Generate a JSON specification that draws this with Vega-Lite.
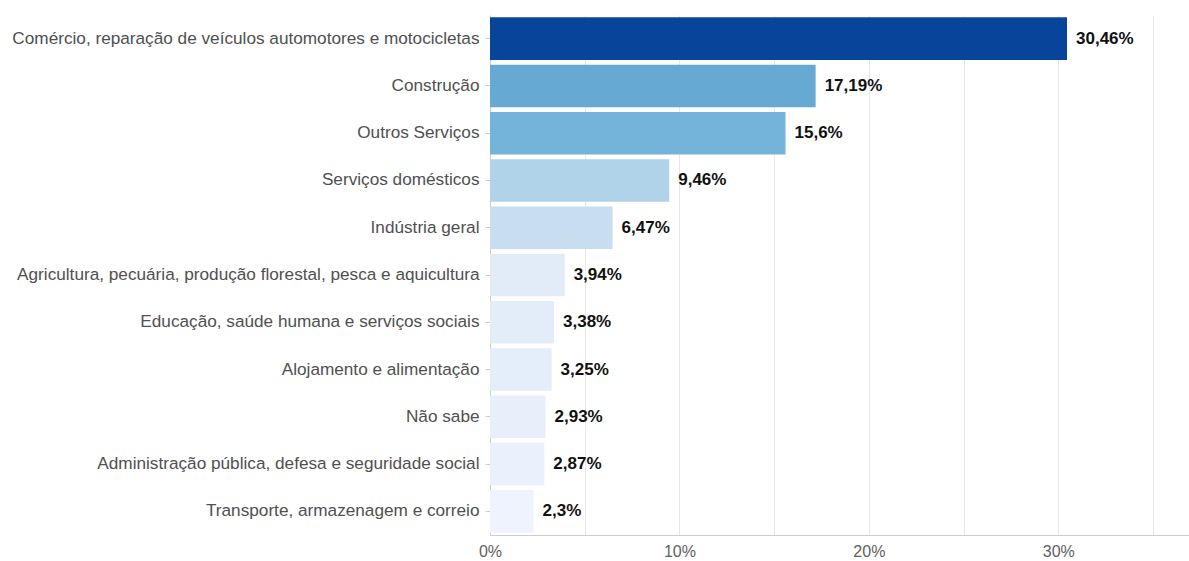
{
  "$schema": "https://vega.github.io/schema/vega-lite/v6.json",
  "width": 699,
  "height": 520,
  "padding": {"left": 11, "top": 15, "right": 0, "bottom": 5},
  "background": "white",
  "data": {
    "values": [
      {"setor": "Comércio, reparação de veículos automotores e motocicletas", "pct": 30.46},
      {"setor": "Construção", "pct": 17.19},
      {"setor": "Outros Serviços", "pct": 15.6},
      {"setor": "Serviços domésticos", "pct": 9.46},
      {"setor": "Indústria geral", "pct": 6.47},
      {"setor": "Agricultura, pecuária, produção florestal, pesca e aquicultura", "pct": 3.94},
      {"setor": "Educação, saúde humana e serviços sociais", "pct": 3.38},
      {"setor": "Alojamento e alimentação", "pct": 3.25},
      {"setor": "Não sabe", "pct": 2.93},
      {"setor": "Administração pública, defesa e seguridade social", "pct": 2.87},
      {"setor": "Transporte, armazenagem e correio", "pct": 2.3}
    ]
  },
  "encoding": {
    "y": {
      "field": "setor", "type": "nominal", "sort": null, "title": null,
      "scale": {"paddingInner": 0.1, "paddingOuter": 0.05},
      "axis": {"labelFont": "Liberation Sans", "labelFontSize": 17.2, "labelColor": "#505050", "domainColor": "#cccccc", "tickColor": "#cccccc", "tickSize": 5, "labelPadding": 6, "labelLimit": 700}
    },
    "x": {
      "field": "pct", "type": "quantitative", "title": null,
      "scale": {"domain": [0, 36.9], "nice": false},
      "axis": {"values": [0, 5, 10, 15, 20, 25, 30, 35], "labelExpr": "datum.value % 10 === 0 ? datum.value + '%' : ''", "labelFlush": false, "labelFont": "Liberation Sans", "labelFontSize": 16, "labelColor": "#606060", "domainColor": "#cccccc", "tickColor": "#cccccc", "ticks": false, "gridColor": "#e8e8e8", "labelPadding": 8}
    }
  },
  "layer": [
    {
      "mark": {"type": "bar"},
      "encoding": {
        "color": {
          "field": "setor", "type": "nominal", "legend": null, "sort": null,
          "scale": {"range": ["#08449a", "#66aad4", "#74b4da", "#b1d3ea", "#c9ddf1", "#e2ebf8", "#e3ecf9", "#e4edfa", "#e8effb", "#eaf0fc", "#eef3fd"]}
        }
      }
    },
    {
      "mark": {"type": "text", "align": "left", "baseline": "middle", "dx": 9, "font": "Liberation Sans", "fontSize": 17, "fontWeight": "bold", "color": "#111111",
        "text": {"expr": "replace(format(datum.pct, '~r'), '.', ',') + '%'"}},
      "encoding": {}
    }
  ],
  "config": {"view": {"stroke": null}}
}
